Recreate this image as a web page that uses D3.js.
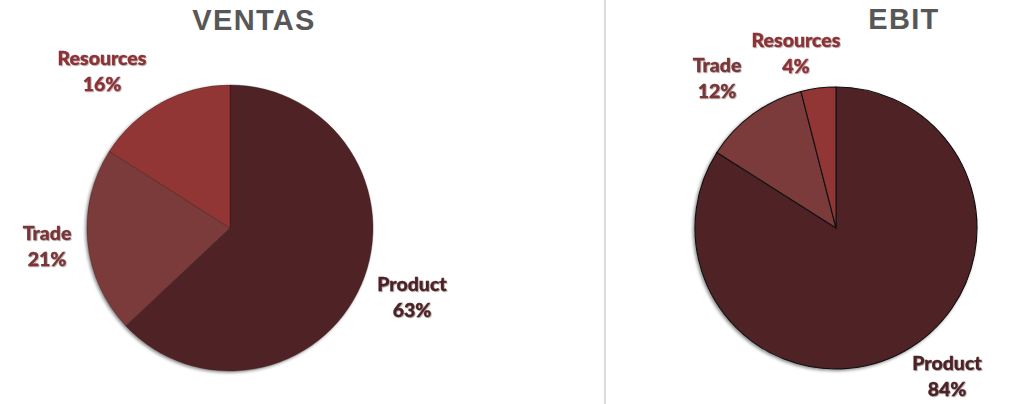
<!DOCTYPE html>
<html><head><meta charset="utf-8">
<script src="https://cdn.jsdelivr.net/npm/d3@7"></script>
<style>
html,body{margin:0;padding:0;background:#fff;}
svg{display:block;}
.lbl{font-family:Lato,"Open Sans",sans-serif;font-weight:900;font-size:19.5px;stroke-width:0.35px;}
.ttl{font-family:"Liberation Sans",Arial,sans-serif;font-weight:700;font-size:29px;fill:#575757;letter-spacing:1.3px;}
</style></head>
<body>
<svg id="c" width="1022" height="404"></svg>
<script>
const categories = ["Product", "Trade", "Resources"];
const ventasValues = [63, 21, 16];
const ebitValues = [84, 12, 4];
const titles = ["VENTAS", "EBIT"];
const colors = ["#4f2427", "#7b3a3b", "#923536"];
const labelColors = ["#4e2426", "#7a3537", "#8c3236"];

const svg = d3.select("#c");
const defs = svg.append("defs");
const f = defs.append("filter").attr("id","sh").attr("x","-10%").attr("y","-10%").attr("width","120%").attr("height","120%");
f.append("feDropShadow").attr("dx",-1.5).attr("dy",1.5).attr("stdDeviation",1.5).attr("flood-color","#000").attr("flood-opacity",0.45);
const tf = defs.append("filter").attr("id","tsh").attr("x","-10%").attr("y","-10%").attr("width","120%").attr("height","130%");
tf.append("feDropShadow").attr("dx",0.8).attr("dy",0.8).attr("stdDeviation",0.6).attr("flood-color","#000").attr("flood-opacity",0.35);

// divider
svg.append("line").attr("x1",605).attr("x2",605).attr("y1",0).attr("y2",404)
  .attr("stroke","#dcdcdc").attr("stroke-width",2);

const charts = [
  {values: ventasValues, title: titles[0], cx: 230, cy: 228, r: 143, tx: 254, ty: 30,
   stroke: "rgba(40,15,15,0.55)", sw: 0.6,
   labels: [[182, 63], [-183, 12], [-128, -163]]},
  {values: ebitValues, title: titles[1], cx: 836, cy: 228, r: 141, tx: 904, ty: 29,
   stroke: "#111", sw: 1.1,
   labels: [[111, 142], [-119, -156], [-40, -181]]}
];

const pie = d3.pie().sort(null).value(d => d.v);
const arc = d3.arc().innerRadius(0);

charts.forEach(ch => {
  const data = categories.map((c, i) => ({c, v: ch.values[i], i}));
  const g = svg.append("g").attr("transform", `translate(${ch.cx},${ch.cy})`);
  const arcs = pie(data);
  const pg = g.append("g").attr("filter","url(#sh)");
  pg.selectAll("path").data(arcs).join("path")
    .attr("d", d => arc.outerRadius(ch.r)(d))
    .attr("fill", d => colors[d.data.i])
    .attr("stroke", ch.stroke).attr("stroke-width", ch.sw).attr("stroke-linejoin","round");

  svg.append("text").attr("class","ttl").attr("x", ch.tx).attr("y", ch.ty)
    .attr("text-anchor","middle").text(ch.title);

  arcs.forEach((d, k) => {
    const [ox, oy] = ch.labels[k];
    const t = g.append("text").attr("class","lbl").attr("text-anchor","middle")
      .attr("fill", labelColors[d.data.i]).attr("stroke", labelColors[d.data.i])
      .attr("filter","url(#tsh)");
    t.append("tspan").attr("x", ox).attr("y", oy).text(d.data.c);
    t.append("tspan").attr("x", ox).attr("y", oy + 26).text(d.data.v + "%");
  });
});
</script>
</body></html>
